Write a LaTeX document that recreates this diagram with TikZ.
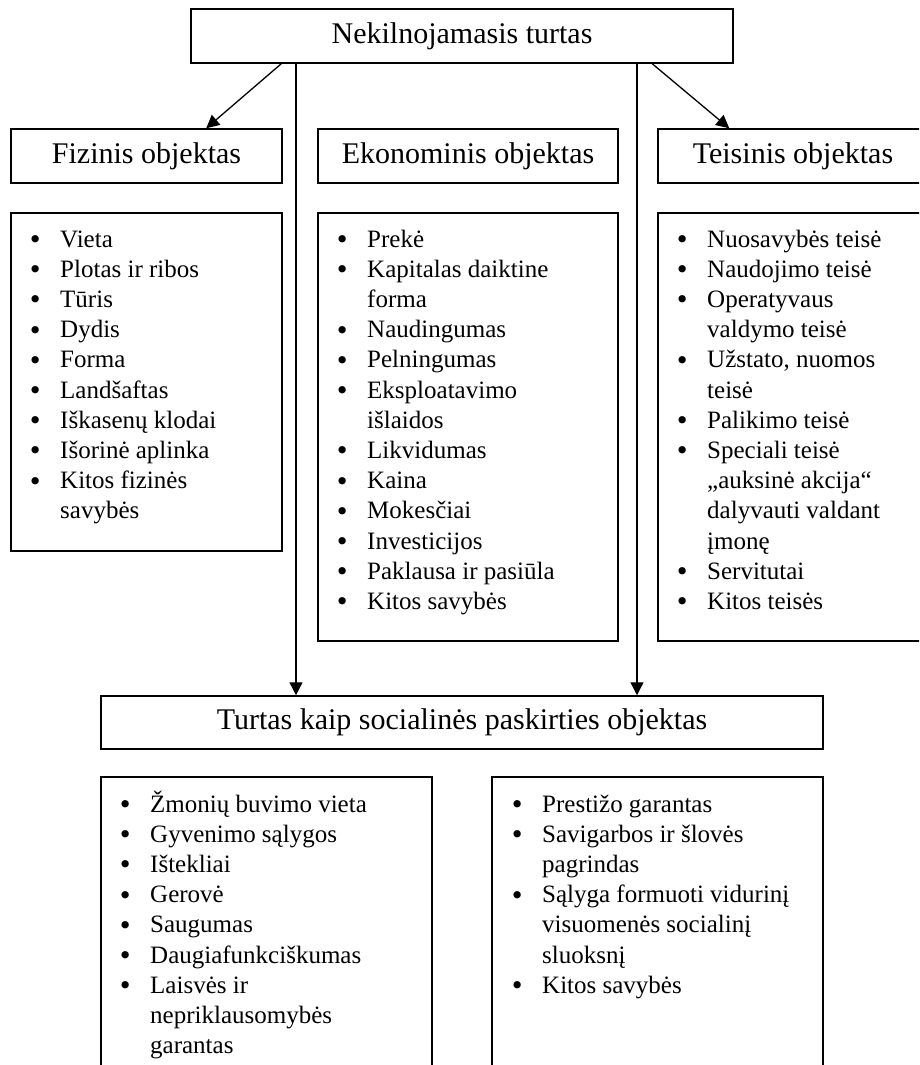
\documentclass[tikz,border=0pt]{standalone}
\usepackage{fontspec}
\setmainfont{Liberation Serif}
\newfontfamily\bulletfont{DejaVu Sans}
\usetikzlibrary{arrows.meta}
\newcommand\bl{\makebox[0pt]{\raisebox{-1.5pt}{\bulletfont •}}}
\newcommand\lfont{\fontsize{25}{30.2}\selectfont}
\tikzset{
  box/.style={draw, line width=1.5pt, inner sep=0pt},
  head/.style={box, font=\fontsize{30}{36}\selectfont},
  listtext/.style={inner sep=0pt, anchor=base west, font=\lfont, align=left},
  arr/.style={line width=1.3pt, -{Triangle[length=13pt,width=13pt]}}
}
\begin{document}
\begin{tikzpicture}[x=1pt,y=-1pt]
\clip (0,0) rectangle (919,1065);
\fill[white] (0,0) rectangle (919,1065);
% headings
\node[head, minimum width=542pt, minimum height=54pt] (top) at (462,36) {Nekilnojamasis turtas};
\node[head, minimum width=271pt, minimum height=54pt] (fiz) at (146.5,156) {Fizinis objektas};
\node[head, minimum width=300pt, minimum height=54pt] (eko) at (468,156) {Ekonominis objektas};
\node[head, minimum width=270pt, minimum height=54pt] (tei) at (793,156) {Teisinis objektas};
\node[head, minimum width=722pt, minimum height=53pt] (soc) at (462,722.5) {Turtas kaip socialinės paskirties objektas};
% list boxes
\node[box, minimum width=271pt, minimum height=338pt] (fizl) at (146.5,382) {};
\node[box, minimum width=300pt, minimum height=428pt] (ekol) at (468,427) {};
\node[box, minimum width=270pt, minimum height=428pt] (teil) at (793,427) {};
\node[box, minimum width=331pt, minimum height=303pt] (socl) at (266.5,928.5) {};
\node[box, minimum width=331pt, minimum height=303pt] (socr) at (657.5,928.5) {};
% list texts
\node[listtext] (fizt) at (35,247) {\begin{tabular}[t]{@{}l@{\hspace{25pt}}l@{}}
\bl & Vieta\\
\bl & Plotas ir ribos\\
\bl & Tūris\\
\bl & Dydis\\
\bl & Forma\\
\bl & Landšaftas\\
\bl & Iškasenų klodai\\
\bl & Išorinė aplinka\\
\bl & Kitos fizinės\\
    & savybės
\end{tabular}};
\node[listtext] (ekot) at (342,247) {\begin{tabular}[t]{@{}l@{\hspace{25pt}}l@{}}
\bl & Prekė\\
\bl & Kapitalas daiktine\\
    & forma\\
\bl & Naudingumas\\
\bl & Pelningumas\\
\bl & Eksploatavimo\\
    & išlaidos\\
\bl & Likvidumas\\
\bl & Kaina\\
\bl & Mokesčiai\\
\bl & Investicijos\\
\bl & Paklausa ir pasiūla\\
\bl & Kitos savybės
\end{tabular}};
\node[listtext] (teit) at (682,247) {\begin{tabular}[t]{@{}l@{\hspace{25pt}}l@{}}
\bl & Nuosavybės teisė\\
\bl & Naudojimo teisė\\
\bl & Operatyvaus\\
    & valdymo teisė\\
\bl & Užstato, nuomos\\
    & teisė\\
\bl & Palikimo teisė\\
\bl & Speciali teisė\\
    & „auksinė akcija“\\
    & dalyvauti valdant\\
    & įmonę\\
\bl & Servitutai\\
\bl & Kitos teisės
\end{tabular}};
\node[listtext] (soclt) at (125,812) {\begin{tabular}[t]{@{}l@{\hspace{25pt}}l@{}}
\bl & Žmonių buvimo vieta\\
\bl & Gyvenimo sąlygos\\
\bl & Ištekliai\\
\bl & Gerovė\\
\bl & Saugumas\\
\bl & Daugiafunkciškumas\\
\bl & Laisvės ir\\
    & nepriklausomybės\\
    & garantas
\end{tabular}};
\node[listtext] (socrt) at (517,812) {\begin{tabular}[t]{@{}l@{\hspace{25pt}}l@{}}
\bl & Prestižo garantas\\
\bl & Savigarbos ir šlovės\\
    & pagrindas\\
\bl & Sąlyga formuoti vidurinį\\
    & visuomenės socialinį\\
    & sluoksnį\\
\bl & Kitos savybės
\end{tabular}};
% connectors
\coordinate (xl) at (296,0);
\coordinate (xr) at (637,0);
\draw[arr] ([xshift=91pt]top.south west) -- ([xshift=196pt]fiz.north west);
\draw[arr] ([xshift=462pt]top.south west) -- ([xshift=72pt]tei.north west);
\draw[arr] (top.south -| xl) -- (soc.north -| xl);
\draw[arr] (top.south -| xr) -- (soc.north -| xr);
\end{tikzpicture}
\end{document}
